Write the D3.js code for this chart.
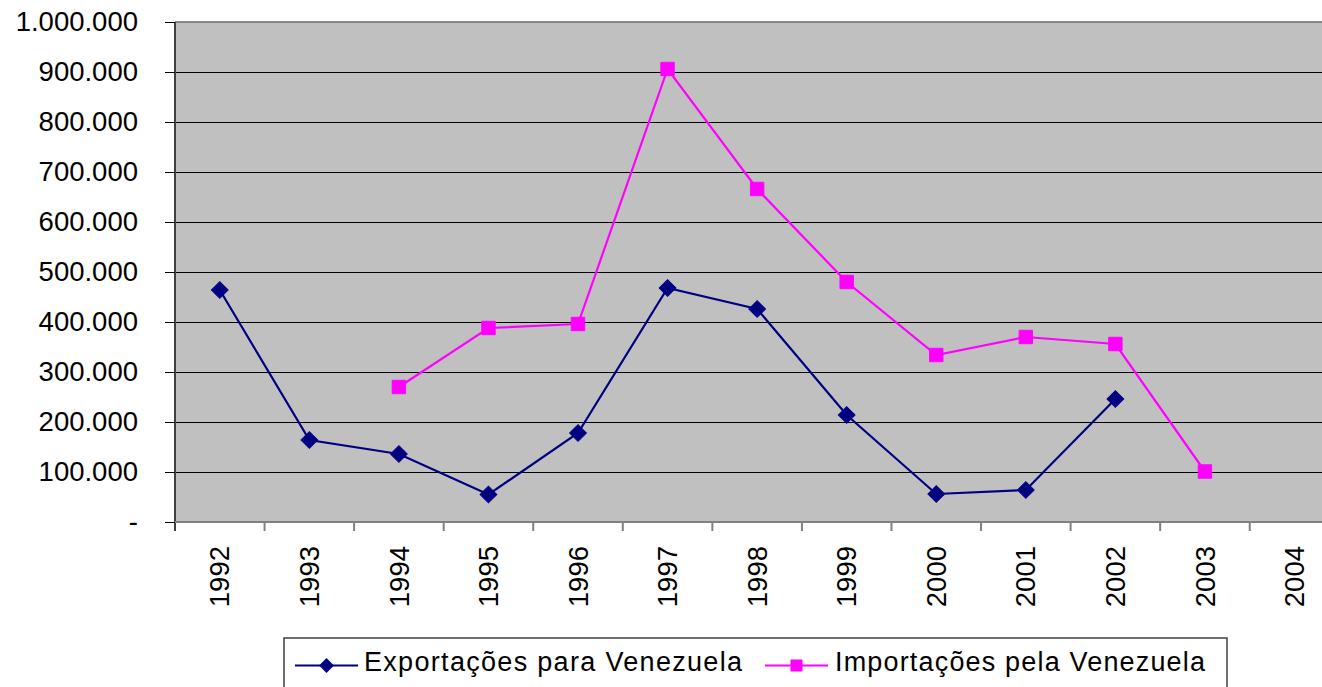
<!DOCTYPE html>
<html>
<head>
<meta charset="utf-8">
<script src="https://cdn.jsdelivr.net/npm/d3@7"></script>
<style>
html,body{margin:0;padding:0;background:#fff;overflow:hidden;}
svg{display:block;font-family:Arial,"Liberation Sans",sans-serif;}
</style>
</head>
<body>
<svg id="chart" width="1322" height="687"></svg>
<script>
const years = ["1992","1993","1994","1995","1996","1997","1998","1999","2000","2001","2002","2003","2004"];
const exportacoes = [464000,164000,136000,55000,178000,468000,426000,214000,56000,64000,246000,null,null];
const importacoes = [null,null,270000,388000,396000,906000,666000,480000,334000,370000,356000,101000,null];
const yTicks = [0,100000,200000,300000,400000,500000,600000,700000,800000,900000,1000000];
const seriesNames = ["Exportações para Venezuela","Importações pela Venezuela"];

(function(){
const svg = d3.select("#chart");
const pLeft = 175, pTop = 22, pBottom = 522, band = 89.56;
const pRight = pLeft + band * years.length;
const FS = 27.5;

const x = d3.scaleBand().domain(years).range([pLeft, pRight]).padding(0);
const y = d3.scaleLinear().domain([0, 1000000]).range([pBottom, pTop]);

const loc = d3.formatLocale({decimal:",", thousands:".", grouping:[3], currency:["",""]});
const fmt = loc.format(",.0f");

svg.append("rect").attr("x", pLeft).attr("y", pTop).attr("width", pRight - pLeft).attr("height", pBottom - pTop).attr("fill", "#C0C0C0");

svg.append("g").selectAll("line").data(yTicks.slice(1)).join("line")
  .attr("x1", pLeft).attr("x2", pRight)
  .attr("y1", d => y(d)).attr("y2", d => y(d))
  .attr("stroke", "#000").attr("stroke-width", 1).attr("shape-rendering","crispEdges");

svg.append("line").attr("x1", pLeft).attr("x2", pRight).attr("y1", pTop).attr("y2", pTop)
  .attr("stroke", "#888").attr("stroke-width", 2);

const yAxis = svg.append("g").attr("transform", `translate(${pLeft},0)`)
  .call(d3.axisLeft(y).tickValues(yTicks).tickSize(10).tickPadding(27)
    .tickFormat(d => d === 0 ? "-" : fmt(d)));
yAxis.select(".domain").attr("stroke", "#404040").attr("stroke-width", 2).attr("d", `M0,${pTop}V${pBottom + 9}`);
yAxis.selectAll(".tick line").attr("stroke", "#000");
yAxis.selectAll(".tick text").attr("font-size", FS).attr("fill", "#000").attr("font-family", "Arial, 'Liberation Sans', sans-serif");

const xAxis = svg.append("g").attr("transform", `translate(0,${pBottom})`)
  .call(d3.axisBottom(x).tickSize(0));
xAxis.select(".domain").attr("stroke", "#808080").attr("stroke-width", 2).attr("d", `M${pLeft},0H${pRight}`);
xAxis.selectAll(".tick text")
  .attr("font-size", FS).attr("fill", "#000").attr("font-family", "Arial, 'Liberation Sans', sans-serif")
  .attr("transform", "rotate(-90)")
  .attr("text-anchor", "end")
  .attr("x", -24).attr("y", 0).attr("dy", "0.35em");
svg.append("g").selectAll("line").data(years.slice(1)).join("line")
  .attr("x1", d => x(d)).attr("x2", d => x(d))
  .attr("y1", pBottom).attr("y2", pBottom + 9)
  .attr("stroke", "#808080").attr("stroke-width", 2);

const cx = d => x(d) + x.bandwidth() / 2;

function drawSeries(vals, color, shape) {
  const pts = years.map((yr, i) => ({yr, v: vals[i]})).filter(d => d.v !== null);
  const line = d3.line().x(d => cx(d.yr)).y(d => y(d.v));
  svg.append("path").datum(pts).attr("d", line).attr("fill", "none")
    .attr("stroke", color).attr("stroke-width", 2.2);
  const sym = d3.symbol().type(d3.symbolSquare).size(shape === "diamond" ? 140 : 180);
  svg.append("g").selectAll("path").data(pts).join("path")
    .attr("d", sym)
    .attr("transform", d => `translate(${cx(d.yr)},${y(d.v)})` + (shape === "diamond" ? " rotate(45)" : ""))
    .attr("fill", color).attr("stroke", color).attr("stroke-width", 1);
}
drawSeries(exportacoes, "#000080", "diamond");
drawSeries(importacoes, "#FF00FF", "square");

const lg = svg.append("g");
lg.append("rect").attr("x", 284).attr("y", 638).attr("width", 943).attr("height", 80)
  .attr("fill", "#fff").attr("stroke", "#404040").attr("stroke-width", 1.5);
const legendItems = [
  {name: seriesNames[0], color: "#000080", shape: "diamond", x0: 295, tx: 364, tl: 378},
  {name: seriesNames[1], color: "#FF00FF", shape: "square", x0: 765, tx: 835, tl: 370}
];
legendItems.forEach(it => {
  lg.append("line").attr("x1", it.x0).attr("x2", it.x0 + 63).attr("y1", 665.5).attr("y2", 665.5)
    .attr("stroke", it.color).attr("stroke-width", 2);
  lg.append("path")
    .attr("d", d3.symbol().type(d3.symbolSquare).size(it.shape === "diamond" ? 110 : 144))
    .attr("transform", `translate(${it.x0 + 31.5},665.5)` + (it.shape === "diamond" ? " rotate(45)" : ""))
    .attr("fill", it.color);
  lg.append("text").attr("x", it.tx).attr("y", 671).attr("font-size", 27)
    .attr("textLength", it.tl).attr("lengthAdjust", "spacing")
    .attr("fill", "#000").text(it.name);
});
})();
</script>
</body>
</html>
